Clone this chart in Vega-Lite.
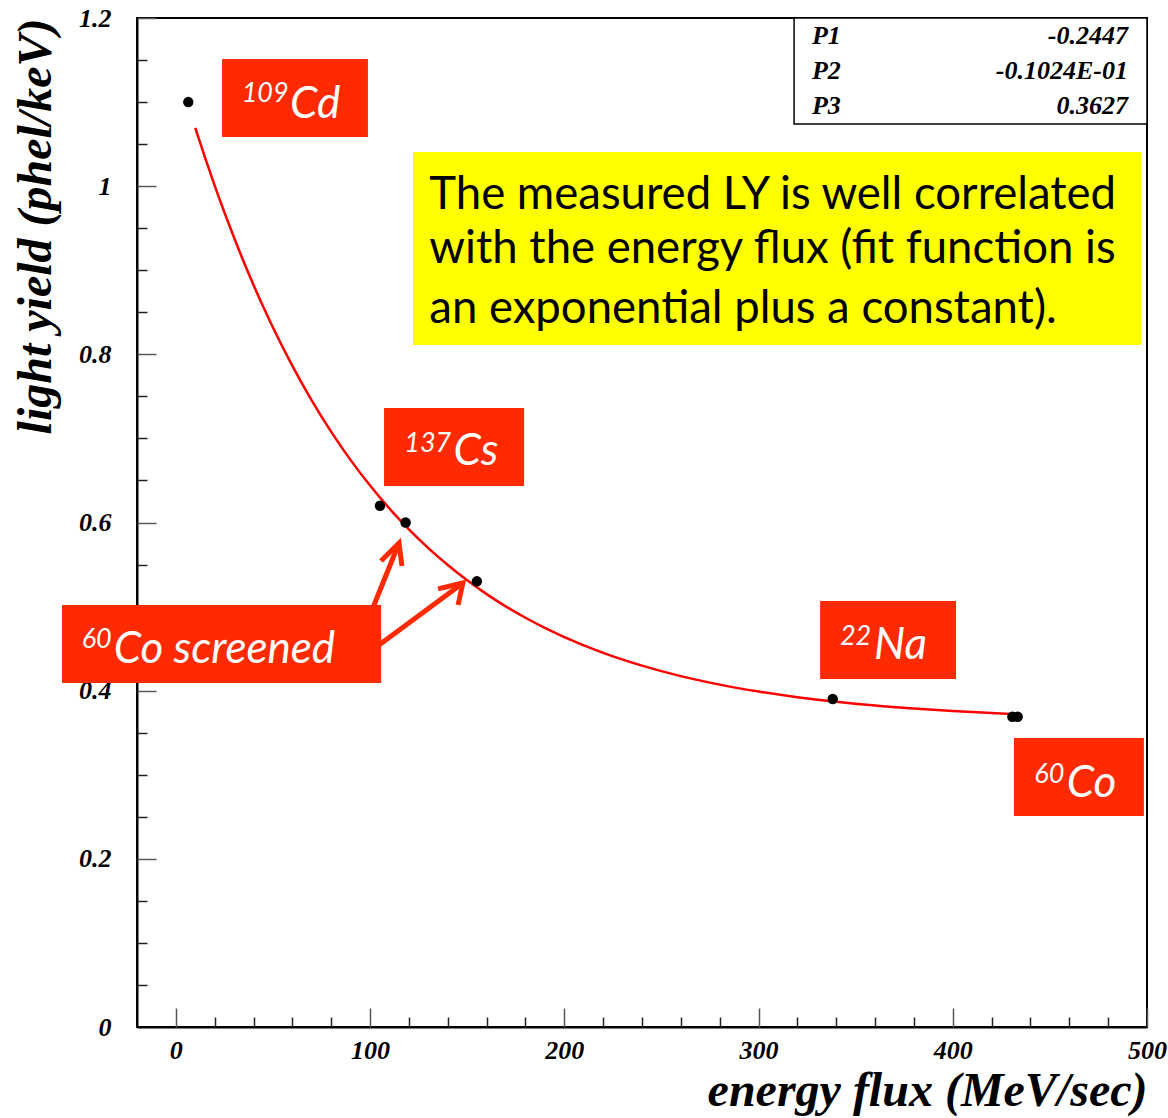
{
  "$schema": "https://vega.github.io/schema/vega-lite/v6.json",
  "width": 1010,
  "height": 1009,
  "autosize": {"type": "none"},
  "padding": {"left": 137, "top": 18, "right": 21, "bottom": 91},
  "background": "white",
  "config": {"view": {"stroke": "black", "strokeWidth": 2}},
  "datasets": {
    "points": [
      {"x": 6.4, "y": 1.10},
      {"x": 105.1, "y": 0.620},
      {"x": 118.3, "y": 0.600},
      {"x": 155.0, "y": 0.530},
      {"x": 338.2, "y": 0.390},
      {"x": 430.7, "y": 0.369},
      {"x": 433.4, "y": 0.369}
    ],
    "fit": [
      {"x": 10, "y": 1.0694}, {"x": 15, "y": 1.0342}, {"x": 20, "y": 1.0006},
      {"x": 25, "y": 0.9688}, {"x": 30, "y": 0.9386}, {"x": 35, "y": 0.9098},
      {"x": 40, "y": 0.8825}, {"x": 45, "y": 0.8566}, {"x": 50, "y": 0.8319},
      {"x": 60, "y": 0.7862}, {"x": 70, "y": 0.7450}, {"x": 80, "y": 0.7078},
      {"x": 90, "y": 0.6742}, {"x": 100, "y": 0.6439}, {"x": 110, "y": 0.6165},
      {"x": 120, "y": 0.5918}, {"x": 130, "y": 0.5695}, {"x": 140, "y": 0.5494},
      {"x": 150, "y": 0.5312}, {"x": 160, "y": 0.5148}, {"x": 170, "y": 0.5000},
      {"x": 180, "y": 0.4867}, {"x": 190, "y": 0.4746}, {"x": 200, "y": 0.4637},
      {"x": 220, "y": 0.4450}, {"x": 240, "y": 0.4298}, {"x": 260, "y": 0.4173},
      {"x": 280, "y": 0.4072}, {"x": 300, "y": 0.3990}, {"x": 320, "y": 0.3923},
      {"x": 340, "y": 0.3868}, {"x": 360, "y": 0.3823}, {"x": 380, "y": 0.3787},
      {"x": 400, "y": 0.3757}, {"x": 420, "y": 0.3733}, {"x": 430, "y": 0.3723}
    ],
    "sourceBoxes": [
      {"source": "109Cd", "x": 23.8, "x2": 98.9, "y": 1.1513, "y2": 1.0585},
      {"source": "137Cs", "x": 107.2, "x2": 179.3, "y": 0.7362, "y2": 0.6434},
      {"source": "60Co screened", "x": -58.6, "x2": 105.7, "y": 0.5019, "y2": 0.4091},
      {"source": "22Na", "x": 331.7, "x2": 401.7, "y": 0.5066, "y2": 0.4138},
      {"source": "60Co", "x": 431.5, "x2": 498.4, "y": 0.3438, "y2": 0.2510}
    ],
    "massNumbers": [
      {"label": "109", "x": 33.9, "y": 1.1001},
      {"label": "137", "x": 117.6, "y": 0.6839},
      {"label": "60", "x": -48.5, "y": 0.4508},
      {"label": "22", "x": 341.9, "y": 0.4543},
      {"label": "60", "x": 442.0, "y": 0.2902}
    ],
    "elements": [
      {"label": "Cd", "x": 58.8, "y": 1.0811},
      {"label": "Cs", "x": 142.9, "y": 0.6684},
      {"label": "Co screened", "x": -32.0, "y": 0.4329},
      {"label": "Na", "x": 359.4, "y": 0.4377},
      {"label": "Co", "x": 458.7, "y": 0.2736}
    ],
    "arrows": [
      {"seg": "shaft1", "o": 1, "x": 101.0, "y": 0.4960},
      {"seg": "shaft1", "o": 2, "x": 114.9, "y": 0.5756},
      {"seg": "head1", "o": 1, "x": 105.6, "y": 0.5542},
      {"seg": "head1", "o": 2, "x": 114.9, "y": 0.5756},
      {"seg": "head1", "o": 3, "x": 116.4, "y": 0.5482},
      {"seg": "shaft2", "o": 1, "x": 102.5, "y": 0.4508},
      {"seg": "shaft2", "o": 2, "x": 147.8, "y": 0.5281},
      {"seg": "head2", "o": 1, "x": 135.0, "y": 0.5210},
      {"seg": "head2", "o": 2, "x": 147.8, "y": 0.5281},
      {"seg": "head2", "o": 3, "x": 145.3, "y": 0.5019}
    ],
    "note": [
      {"line": "The measured LY is well correlated", "x": 130.5, "y": 0.9729},
      {"line": "with the energy flux (fit function is", "x": 130.5, "y": 0.9087},
      {"line": "an exponential plus a constant).", "x": 130.5, "y": 0.8373}
    ],
    "noteBox": [{"x": 122.1, "x2": 496.9, "y": 1.0407, "y2": 0.8111}],
    "statsBox": [{"x": 318.3, "x2": 500, "y": 1.2, "y2": 1.074}],
    "params": [
      {"name": "P1", "value": "-0.2447", "x": 327.5, "xv": 490.2, "y": 1.1685},
      {"name": "P2", "value": "-0.1024E-01", "x": 327.5, "xv": 490.2, "y": 1.1269},
      {"name": "P3", "value": "0.3627", "x": 327.5, "xv": 490.2, "y": 1.0853}
    ]
  },
  "encoding": {
    "x": {"field": "x", "type": "quantitative", "scale": {"domain": [-20, 500], "nice": false, "zero": false}, "axis": null},
    "y": {"field": "y", "type": "quantitative", "scale": {"domain": [0, 1.2], "nice": false, "zero": false}, "axis": null}
  },
  "layer": [
    {
      "data": {"name": "fit"},
      "mark": {"type": "line", "color": "#ff0000", "strokeWidth": 2.5, "interpolate": "monotone"},
      "encoding": {
        "x": {
          "field": "x", "type": "quantitative",
          "scale": {"domain": [-20, 500], "nice": false, "zero": false},
          "axis": {
            "orient": "bottom", "values": [0, 100, 200, 300, 400, 500], "format": "d",
            "ticks": false, "tickSize": 0, "grid": false,
            "domain": true, "domainColor": "black", "domainWidth": 2,
            "labelFont": "Liberation Serif", "labelFontStyle": "italic", "labelFontWeight": "bold",
            "labelFontSize": 26, "labelColor": "black", "labelBaseline": "alphabetic",
            "labelPadding": 31, "labelFlush": false, "labelOverlap": false,
            "title": "energy flux (MeV/sec)",
            "titleFont": "Liberation Serif", "titleFontStyle": "italic", "titleFontWeight": "bold",
            "titleFontSize": 48, "titleColor": "black",
            "titleX": 1010, "titleY": 78, "titleAlign": "right", "titleBaseline": "alphabetic", "titleAnchor": "end"
          }
        },
        "y": {
          "field": "y", "type": "quantitative",
          "scale": {"domain": [0, 1.2], "nice": false, "zero": false},
          "axis": {
            "orient": "left", "values": [0, 0.2, 0.4, 0.6, 0.8, 1, 1.2], "format": "~g",
            "ticks": false, "tickSize": 0, "grid": false,
            "domain": true, "domainColor": "black", "domainWidth": 2,
            "labelFont": "Liberation Serif", "labelFontStyle": "italic", "labelFontWeight": "bold",
            "labelFontSize": 26, "labelColor": "black", "labelAlign": "right", "labelBaseline": "middle",
            "labelPadding": 26, "labelFlush": false, "labelOverlap": false,
            "title": "light yield (phel/keV)",
            "titleFont": "Liberation Serif", "titleFontStyle": "italic", "titleFontWeight": "bold",
            "titleFontSize": 48, "titleColor": "black",
            "titleX": -87, "titleY": 0, "titleAngle": -90, "titleAlign": "right", "titleBaseline": "alphabetic", "titleAnchor": "end"
          }
        }
      }
    },
    {
      "data": {"name": "points"},
      "mark": {"type": "circle", "color": "black", "opacity": 1, "size": 110},
      "encoding": {
        "x": {
          "field": "x", "type": "quantitative",
          "scale": {"domain": [-20, 500], "nice": false, "zero": false},
          "axis": {
            "orient": "bottom", "values": [0, 100, 200, 300, 400, 500],
            "labels": false, "domain": false, "grid": false, "title": null,
            "ticks": true, "tickSize": -19, "tickColor": "#555555", "tickWidth": 1.5
          }
        },
        "y": {
          "field": "y", "type": "quantitative",
          "scale": {"domain": [0, 1.2], "nice": false, "zero": false},
          "axis": {
            "orient": "left", "values": [0.2, 0.4, 0.6, 0.8, 1, 1.2],
            "labels": false, "domain": false, "grid": false, "title": null,
            "ticks": true, "tickSize": -19, "tickColor": "#555555", "tickWidth": 1.5
          }
        }
      }
    },
    {
      "data": {"name": "arrows"},
      "mark": {"type": "line", "color": "#ff2a00", "strokeWidth": 5, "strokeCap": "butt", "strokeJoin": "miter"},
      "encoding": {
        "detail": {"field": "seg", "type": "nominal"},
        "order": {"field": "o", "type": "quantitative"}
      }
    },
    {
      "data": {"name": "noteBox"},
      "mark": {"type": "rect", "color": "#ffff00"},
      "encoding": {
        "x2": {"field": "x2"},
        "y2": {"field": "y2"}
      }
    },
    {
      "data": {"name": "statsBox"},
      "mark": {"type": "rect", "fill": "white", "stroke": "black", "strokeWidth": 1.5},
      "encoding": {
        "x2": {"field": "x2"},
        "y2": {"field": "y2"}
      }
    },
    {
      "data": {"name": "sourceBoxes"},
      "mark": {"type": "rect", "color": "#ff2a00"},
      "encoding": {
        "x": {
          "field": "x", "type": "quantitative",
          "scale": {"domain": [-20, 500], "nice": false, "zero": false},
          "axis": {
            "orient": "bottom",
            "values": [20, 40, 60, 80, 120, 140, 160, 180, 220, 240, 260, 280, 320, 340, 360, 380, 420, 440, 460, 480],
            "labels": false, "domain": false, "grid": false, "title": null,
            "ticks": true, "tickSize": -10, "tickColor": "#222222", "tickWidth": 1.5
          }
        },
        "y": {
          "field": "y", "type": "quantitative",
          "scale": {"domain": [0, 1.2], "nice": false, "zero": false},
          "axis": {
            "orient": "left",
            "values": [0.05, 0.1, 0.15, 0.25, 0.3, 0.35, 0.45, 0.5, 0.55, 0.65, 0.7, 0.75, 0.85, 0.9, 0.95, 1.05, 1.1, 1.15],
            "labels": false, "domain": false, "grid": false, "title": null,
            "ticks": true, "tickSize": -10, "tickColor": "#222222", "tickWidth": 1.5
          }
        },
        "x2": {"field": "x2"},
        "y2": {"field": "y2"}
      }
    },
    {
      "data": {"name": "massNumbers"},
      "mark": {"type": "text", "font": "Lato", "fontStyle": "italic", "fontSize": 27, "color": "white", "align": "left", "baseline": "alphabetic"},
      "encoding": {"text": {"field": "label"}}
    },
    {
      "data": {"name": "elements"},
      "mark": {"type": "text", "font": "Lato", "fontStyle": "italic", "fontSize": 44, "color": "white", "align": "left", "baseline": "alphabetic"},
      "encoding": {"text": {"field": "label"}}
    },
    {
      "data": {"name": "note"},
      "mark": {"type": "text", "font": "Lato", "fontSize": 45.5, "color": "black", "align": "left", "baseline": "alphabetic"},
      "encoding": {"text": {"field": "line"}}
    },
    {
      "data": {"name": "params"},
      "mark": {"type": "text", "font": "Liberation Serif", "fontStyle": "italic", "fontWeight": "bold", "fontSize": 26, "color": "black", "align": "left", "baseline": "alphabetic"},
      "encoding": {"text": {"field": "name"}}
    },
    {
      "data": {"name": "params"},
      "mark": {"type": "text", "font": "Liberation Serif", "fontStyle": "italic", "fontWeight": "bold", "fontSize": 26, "color": "black", "align": "right", "baseline": "alphabetic"},
      "encoding": {
        "x": {"field": "xv", "type": "quantitative", "axis": null},
        "text": {"field": "value"}
      }
    }
  ],
  "resolve": {"axis": {"x": "independent", "y": "independent"}}
}
